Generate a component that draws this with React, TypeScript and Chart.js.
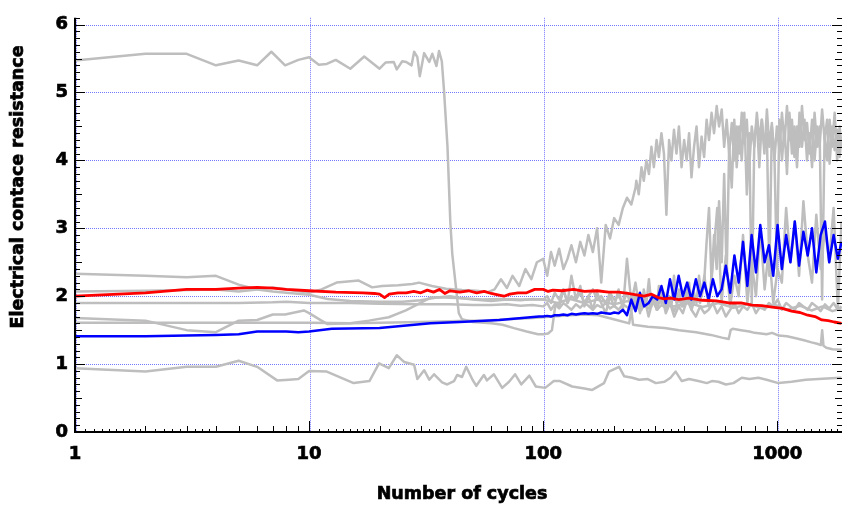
import React, { useEffect, useRef } from "react";
import { Chart, registerables } from "chart.js";

Chart.register(...registerables);

// ---------- axis ticks ----------
const X_TICKS = [1, 10, 100, 1000];
const X_TICK_LABELS = ["1", "10", "100", "1000"];
const Y_TICKS = [0, 1, 2, 3, 4, 5, 6];
const Y_TICK_LABELS = ["0", "1", "2", "3", "4", "5", "6"];
const X_TITLE = "Number of cycles";
const Y_TITLE = "Electrical contace resistance";

// shared cycle grid for the noisy part (cycles >= 100)
const XN = [
  100, 104, 108, 112, 117, 122, 127, 132, 138, 144,
  150, 156, 163, 170, 177, 185, 193, 201, 210, 219,
  228, 238, 248, 259, 270, 282, 294, 307, 320, 334,
  348, 363, 379, 395, 412, 430, 449, 468, 488, 509,
  531, 554, 578, 603, 629, 656, 684, 714, 745, 777,
  811, 846, 883, 921, 961, 1003, 1046, 1091, 1138, 1188,
  1239, 1293, 1349, 1407, 1468, 1532, 1598, 1667, 1740, 1815,
  1880,
];

// finer cycle grid for the top band (cycles >= 250)
const XF = [
  250, 256, 263, 269, 276, 283, 290, 297, 305, 312,
  320, 328, 336, 345, 353, 362, 371, 380, 390, 400,
  410, 420, 430, 441, 452, 463, 475, 487, 499, 511,
  524, 537, 551, 564, 579, 593, 608, 623, 639, 655,
  671, 688, 705, 723, 741, 759, 778, 798, 818, 838,
  859, 881, 903, 925, 948, 972, 996, 1021, 1047, 1073,
  1100, 1127, 1155, 1184, 1214, 1244, 1275, 1307, 1340, 1373,
  1408, 1443, 1479, 1516, 1554, 1593, 1633, 1673, 1715, 1758,
  1802, 1847, 1880,
];

// ---------- red series ----------
const RED: [number, number][] = [
  [1, 2.0], [2, 2.05], [3, 2.1], [4, 2.1], [5, 2.12], [6, 2.13], [7, 2.12], [8, 2.1], [10, 2.08],
  [13, 2.06], [17, 2.05], [19, 2.04], [20, 2.03], [21, 1.98], [22, 2.03], [24, 2.05], [26, 2.05],
  [28, 2.07], [30, 2.05], [32, 2.09], [34, 2.06], [36, 2.1], [38, 2.04], [40, 2.08], [44, 2.06],
  [48, 2.08], [52, 2.05], [56, 2.07], [60, 2.04], [64, 2.02], [68, 2.0], [72, 2.03], [78, 2.05],
  [85, 2.05], [92, 2.1], [100, 2.1], [105, 2.07], [110, 2.09], [120, 2.08], [135, 2.1], [150, 2.07],
  [170, 2.08], [190, 2.06], [210, 2.06], [230, 2.04], [250, 2.02], [270, 2.0], [290, 2.03], [310, 1.98],
  [330, 1.96], [350, 1.97], [380, 1.95], [420, 1.97], [480, 1.94], [550, 1.93], [620, 1.9], [700, 1.9],
  [780, 1.87], [860, 1.86], [950, 1.84], [1050, 1.82], [1150, 1.78], [1250, 1.76], [1350, 1.72],
  [1450, 1.7], [1550, 1.65], [1650, 1.64], [1750, 1.62], [1880, 1.6],
];

// ---------- blue series ----------
const BLUE_HEAD: [number, number][] = [
  [1, 1.41], [2, 1.41], [3, 1.42], [4, 1.43], [5, 1.44], [6, 1.48], [8, 1.48], [9, 1.47], [10, 1.48],
  [12.5, 1.52], [20, 1.53], [33, 1.6], [44, 1.62], [65, 1.65], [96, 1.7],
];
const BLUE_TAIL: (number | null)[] = [
  1.7, 1.71, 1.7, 1.72, 1.72, 1.73, 1.72, 1.74, 1.73, 1.74,
  1.75, 1.74, 1.75, 1.74, 1.76, 1.75, 1.74, 1.76, 1.75, 1.8,
  1.72, 1.95, 1.78, 2.05, 1.85, 1.9, 2.0, 1.95, 2.15, 1.9,
  2.25, 1.95, 2.3, 2.0, 2.2, 1.95, 2.25, 2.0, 2.2, 1.95,
  2.25, 2.0, 2.1, 2.45, 2.05, 2.6, 2.2, 2.8, 2.15, 2.9,
  2.35, 3.05, 2.5, 2.75, 2.3, 3.05, 2.4, 2.9, 2.5, 3.1,
  2.45, 2.95, 2.6, 3.0, 2.35, 2.9, 3.1, 2.5, 2.9, 2.55,
  2.8,
];

// ---------- grey series ----------
// starts at 5.5, collapses near 40 cycles
const GREY_TOP_HEAD: [number, number][] = [
  [1, 5.47], [2, 5.57], [3, 5.57], [4, 5.4], [5, 5.47], [6, 5.4], [6.9, 5.6], [7.9, 5.4], [9, 5.48],
  [10, 5.52], [11, 5.41], [11.9, 5.42], [13, 5.48], [15, 5.35], [17.2, 5.53], [18.4, 5.45], [20, 5.35],
  [21.2, 5.44], [23, 5.45], [23.7, 5.34], [25, 5.46], [26, 5.45], [27.4, 5.4], [28.1, 5.6], [29, 5.52],
  [29.7, 5.24], [31, 5.58], [32.6, 5.45], [33.6, 5.57], [35, 5.39], [35.9, 5.61], [36.9, 5.46],
  [37.7, 5.03], [39, 4.21], [40.1, 3.1], [40.9, 2.62], [43.6, 1.75], [45, 1.66], [50, 1.62], [60, 1.6],
  [67, 1.58], [75, 1.53], [85, 1.48], [95, 1.44], [100, 1.44], [105, 1.45], [109, 1.5], [113, 1.9],
];
const GREY_TOP_TAIL: (number | null)[] = [
  null, null, null, null, 1.85, 2.1, 1.9, 2.3, 1.95, 2.15,
  1.85, 2.0, 1.8, 2.05, 1.9, 1.75, 2.0, 1.85, 2.1, 1.8,
  2.55, 1.9, 2.2, 1.75, 2.0, 1.7, 1.95, 1.8, 2.05, 1.75,
  1.9, 1.7, 1.85, 1.75, 1.95, 1.8, 1.7, 1.85, 1.75, 1.8,
  1.9, 1.75, 1.85, 1.7, 1.8, 1.9, 1.75, 1.85, 1.8, 1.9,
  1.75, 1.85, 1.8, 1.9, 1.85, 1.95, 1.8, 1.9, 1.85, 1.8,
  1.9, 1.85, 1.8, 1.9, 1.85, 1.78, 1.88, 1.82, 1.9, 1.8,
  1.85,
];

// starts near 2.07, climbs to ~4.5
const GREY_RISE_HEAD: [number, number][] = [
  [1, 2.07], [2, 2.08], [4, 2.1], [5, 2.07], [6, 2.1], [7, 2.13], [8, 2.1], [10, 2.05], [11.3, 2.1],
  [13.1, 2.2], [16.3, 2.23], [18.6, 2.13], [20.5, 2.15], [24, 2.16], [27.6, 2.18], [29.5, 2.2],
  [33.5, 2.15], [38.4, 2.11], [45, 2.09], [52, 2.08], [58, 2.06], [62, 2.1], [66, 2.25], [70, 2.12],
  [74, 2.3], [79, 2.15], [84, 2.4], [89, 2.25], [94, 2.5],
];
const GREY_RISE_TAIL: (number | null)[] = [
  2.55, 2.3, 2.65, 2.45, 2.7, 2.4, 2.55, 2.75, 2.5, 2.8,
  2.6, 2.9, 2.65, 3.0, 2.2, 3.05, 2.85, 3.15, 3.05, 3.3,
  3.45, 3.35, 3.6,
];
const GREY_RISE_FINE: (number | null)[] = [
  3.7, 3.5, 3.9, 3.7, 4.0, 3.8, 4.2, 3.9, 4.3, 4.05,
  4.4, 4.1, 3.2, 4.3, 4.0, 4.45, 4.1, 4.5, 3.9, 4.3,
  4.0, 4.4, 3.75, 4.2, 4.5, 3.9, 4.35, 4.05, 4.6, 4.3,
  4.7, 4.4, 4.8, 4.5, 4.75, 4.2, 4.6, 4.1, 4.55, 4.0,
  4.5, 4.1, 4.7, 4.25, 4.6, 3.9, 4.5, 4.2, 4.7, 4.3,
  4.6, 4.1, 4.75, 4.2, 4.55, 4.0, 4.5, 4.15, 4.7, 4.25,
  4.8, 4.3, 4.6, 4.05, 4.5, 4.2, 4.8, 4.3, 4.55, 4.1,
  4.6, 4.0, 4.5, 4.2, 4.75, 4.3, 4.6, 3.95, 4.5, 4.15,
  4.45, 4.05, 4.35,
];

// starts at 2.33, late jump to the top band
const GREY_LATE_HEAD: [number, number][] = [
  [1, 2.33], [2, 2.3], [3, 2.28], [4, 2.3], [5, 2.17], [6, 2.1], [7, 2.07], [8, 2.05], [10, 2.02],
  [12, 1.96], [15, 1.93], [20, 1.92], [25, 1.92], [30, 1.94], [35, 1.98], [40, 2.0], [45, 1.97],
  [50, 1.95], [60, 1.93], [70, 1.95], [80, 1.94], [90, 1.96],
];
const GREY_LATE_TAIL: (number | null)[] = [
  1.95, 2.0, 1.9, 2.05, 1.95, 2.1, 1.9, 2.0, 1.95, 2.05,
  1.9, 2.0, 2.1, 1.95, 2.0, 1.9, 2.05, 1.95, 2.0, 1.9,
  2.05, 1.85, 2.0,
];
const GREY_LATE_FINE: (number | null)[] = [
  1.85, 2.0, 1.8, 2.1, 1.9, 2.25, 1.85, 2.0, 1.8, 2.15,
  1.9, 2.05, 1.8, 2.0, 1.85, 2.3, 1.9, 2.1, 1.85, 2.0,
  1.9, 2.2, 1.85, 2.05, 1.9, 2.3, 2.0, 2.2, 2.8, 3.3,
  2.2, 2.9, 2.4, 3.4, 2.5, 3.8, 2.3, 4.2, 3.6, 4.6,
  3.9, 4.5, 4.0, 4.7, 3.5, 4.4, 1.9, 4.3, 4.6, 3.9,
  4.6, 4.2, 4.4, 2.3, 4.5, 4.1, 2.4, 4.6, 4.0, 4.5,
  3.8, 4.7, 4.1, 4.5, 3.9, 4.7, 4.2, 4.6, 4.0, 4.4,
  3.9, 4.7, 4.2, 4.5, 1.95, 4.4, 4.0, 4.6, 4.2, 4.7,
  4.0, 4.5, 4.2,
];

// starts at 1.9, noisy 2-3.4 at the end
const GREY_MID_HEAD: [number, number][] = [
  [1, 1.9], [3, 1.9], [5, 1.9], [7, 1.91], [8, 1.92], [10, 1.9], [15, 1.9], [20, 1.89], [30, 1.88],
  [40, 1.88], [50, 1.87], [60, 1.87], [70, 1.88], [80, 1.86], [90, 1.87],
];
const GREY_MID_TAIL: (number | null)[] = [
  1.85, 1.9, 1.8, 1.88, 1.82, 1.9, 1.85, 1.8, 1.88, 1.83,
  1.9, 1.86, 1.8, 1.87, 1.84, 1.9, 1.82, 1.86, 1.8, 1.88,
  1.84, 1.8, 1.9, 1.78, 1.86, 1.82, 1.92, 1.8, 1.87, 1.83,
  1.9, 1.78, 1.95, 1.85, 2.1, 1.8, 2.0, 1.9, 2.3, 1.85,
  2.5, 3.3, 1.9, 2.6, 1.85, 2.3, 2.0, 2.9, 1.9, 2.5,
  2.0, 3.0, 2.1, 2.7, 1.9, 2.4, 2.2, 3.3, 2.5, 3.1,
  2.3, 3.4, 2.6, 2.2, 3.2, 2.4, 3.0, 2.5, 3.3, 1.8,
  3.1,
];

// starts at 1.68, settles near 1.9
const GREY_WAVE: [number, number][] = [
  [1, 1.68], [2, 1.64], [3, 1.5], [4, 1.47], [5, 1.64], [6, 1.65], [7, 1.73], [7.9, 1.73], [9.5, 1.79],
  [10, 1.75], [11.3, 1.64], [12, 1.59], [15, 1.6], [18, 1.64], [21.9, 1.69], [25.9, 1.79], [29.5, 1.89],
  [33, 1.98], [38, 1.98], [45, 1.97], [55, 1.95], [65, 1.96], [80, 1.95], [100, 1.95], [115, 1.9],
  [130, 1.96], [150, 1.9], [170, 1.95], [200, 1.88], [230, 1.93], [270, 1.86], [310, 1.92], [360, 1.85],
  [420, 1.9], [480, 1.84], [560, 1.9], [650, 1.83], [750, 1.88], [860, 1.82], [980, 1.87], [1100, 1.8],
  [1250, 1.86], [1400, 1.79], [1560, 1.85], [1720, 1.78], [1880, 1.82],
];

// starts at 1.61, falls to 1.2 at the end
const GREY_FALL: [number, number][] = [
  [1, 1.61], [2, 1.61], [4, 1.61], [6, 1.61], [8, 1.61], [10, 1.61], [15, 1.6], [20, 1.61], [30, 1.62],
  [40, 1.63], [47, 1.64], [55, 1.64], [70, 1.66], [90, 1.68], [110, 1.7], [130, 1.72], [150, 1.73],
  [172, 1.72], [200, 1.66], [233, 1.6], [238, 1.8], [242, 1.58], [280, 1.55], [330, 1.53], [380, 1.5],
  [450, 1.47], [520, 1.43], [580, 1.39], [620, 1.37], [632, 1.5], [645, 1.52], [700, 1.5], [760, 1.48],
  [800, 1.46], [850, 1.45], [900, 1.44], [950, 1.46], [1015, 1.42], [1100, 1.41], [1200, 1.38],
  [1300, 1.35], [1400, 1.32], [1480, 1.3], [1535, 1.28], [1555, 1.5], [1575, 1.27], [1620, 1.24],
  [1720, 1.22], [1880, 1.21],
];

// lowest series, around 0.7-1.1
const GREY_LOW: [number, number][] = [
  [1, 0.94], [2, 0.89], [3, 0.96], [4, 0.96], [5, 1.05], [6, 0.96], [7.3, 0.76], [8.2, 0.77], [9, 0.78],
  [10, 0.9], [11.9, 0.89], [15.5, 0.72], [18.1, 0.75], [19.9, 1.01], [21.9, 0.94], [23.7, 1.13],
  [25.5, 1.03], [28.1, 0.99], [29, 0.78], [31, 0.91], [32.6, 0.77], [34.2, 0.85], [37, 0.73], [38.9, 0.7],
  [41.6, 0.75], [42.9, 0.84], [45, 0.81], [46.9, 0.96], [49.9, 0.77], [51.8, 0.68], [55.8, 0.84],
  [57.5, 0.76], [61.6, 0.85], [66.8, 0.65], [71.5, 0.74], [75.9, 0.85], [80.6, 0.7], [87.3, 0.83],
  [93, 0.67], [102, 0.65], [111, 0.75], [118, 0.75], [133, 0.67], [150, 0.64], [162, 0.62], [182, 0.72],
  [191, 0.89], [211, 0.96], [222, 0.82], [240, 0.8], [257, 0.77], [280, 0.78], [303, 0.72], [330, 0.74],
  [350, 0.8], [368, 0.89], [391, 0.75], [420, 0.78], [460, 0.75], [500, 0.72], [526, 0.75], [560, 0.74],
  [603, 0.7], [650, 0.72], [705, 0.8], [760, 0.78], [831, 0.8], [900, 0.77], [1011, 0.72], [1150, 0.74],
  [1323, 0.77], [1500, 0.78], [1700, 0.79], [1880, 0.8],
];

// ---------- helpers ----------
function build(head: [number, number][], tail?: (number | null)[], fine?: (number | null)[]) {
  const pts = head.map(([x, y]) => ({ x, y }));
  if (tail) {
    tail.forEach((y, i) => {
      if (y !== null && y !== undefined) pts.push({ x: XN[i], y });
    });
  }
  if (fine) {
    fine.forEach((y, i) => {
      if (y !== null && y !== undefined) pts.push({ x: XF[i], y });
    });
  }
  return pts;
}

const GREY = "#bebebe";
const GRID = "rgb(120,120,255)";
const FONT = '"DejaVu Sans", "Liberation Sans", Arial, sans-serif';

const gridPlugin = {
  id: "dottedGrid",
  beforeDatasetsDraw(chart: any) {
    const { ctx, chartArea } = chart;
    const { left, right, top, bottom } = chartArea;
    const xs = chart.scales.x;
    const ys = chart.scales.y;
    ctx.save();
    ctx.strokeStyle = GRID;
    ctx.lineWidth = 1;
    ctx.setLineDash([1, 1]);
    for (const v of Y_TICKS) {
      const py = Math.round(ys.getPixelForValue(v)) + 0.5;
      ctx.beginPath();
      ctx.moveTo(left + 1, py);
      ctx.lineTo(right, py);
      ctx.stroke();
    }
    for (const v of X_TICKS) {
      const px = Math.round(xs.getPixelForValue(v)) + 1.5;
      ctx.beginPath();
      ctx.moveTo(px, top);
      ctx.lineTo(px, bottom);
      ctx.stroke();
    }
    ctx.restore();
  },
};

const axesPlugin = {
  id: "customAxes",
  afterDraw(chart: any) {
    const { ctx, chartArea } = chart;
    const { left, right, top, bottom } = chartArea;
    const xs = chart.scales.x;
    const ys = chart.scales.y;
    ctx.save();
    ctx.setLineDash([]);
    ctx.strokeStyle = "#000";
    ctx.lineWidth = 1;
    const seg = (x1: number, y1: number, x2: number, y2: number) => {
      ctx.beginPath();
      ctx.moveTo(x1, y1);
      ctx.lineTo(x2, y2);
      ctx.stroke();
    };
    // y ticks (inside, both sides)
    for (let i = 0; i <= 61; i++) {
      const py = Math.round(ys.getPixelForValue(i / 10)) + 0.5;
      const len = i % 10 === 0 ? 10 : i % 5 === 0 ? 7 : 5;
      seg(left, py, left + len, py);
      seg(right, py, right - len, py);
    }
    // x ticks (inside)
    const subdiv: Record<number, number> = { 1: 10, 2: 5, 3: 4 };
    for (const d of X_TICKS) {
      for (let k = 1; k <= 9; k++) {
        const v = k * d;
        if (v > xs.max) break;
        const px = Math.round(xs.getPixelForValue(v)) + 0.5;
        seg(px, bottom, px, bottom - (k === 1 ? 11 : 6));
        const n = subdiv[k];
        if (n) {
          for (let j = 1; j < n; j++) {
            const vv = (k + j / n) * d;
            if (vv > xs.max) break;
            const p2 = Math.round(xs.getPixelForValue(vv)) + 0.5;
            seg(p2, bottom, p2, bottom - 3);
          }
        }
      }
    }
    // axis lines
    ctx.lineWidth = 2;
    seg(left, top, left, bottom + 1);
    seg(left - 1, bottom, right, bottom);
    // titles
    ctx.fillStyle = "#000";
    ctx.strokeStyle = "#000";
    ctx.lineWidth = 0.7;
    ctx.font = `bold 17.5px ${FONT}`;
    ctx.textAlign = "center";
    ctx.textBaseline = "middle";
    ctx.fillText(X_TITLE, 462, 494);
    ctx.strokeText(X_TITLE, 462, 494);
    ctx.translate(18.5, 187);
    ctx.rotate(-Math.PI / 2);
    ctx.fillText(Y_TITLE, 0, 0);
    ctx.strokeText(Y_TITLE, 0, 0);
    ctx.restore();
  },
};

export default function App() {
  const ref = useRef<HTMLCanvasElement>(null);
  useEffect(() => {
    document.body.style.margin = "0";
    const canvas = ref.current!;
    const greyStyle = { borderColor: GREY, borderWidth: 2.5, pointRadius: 0, fill: false };
    const tickFont = { family: FONT, weight: "bold", size: 18 };
    const chart = new Chart(canvas, {
      type: "line",
      data: {
        datasets: [
          { data: build(RED), borderColor: "#ff0000", borderWidth: 2.8, pointRadius: 0, fill: false },
          { data: build(BLUE_HEAD, BLUE_TAIL), borderColor: "#0000ff", borderWidth: 2.5, pointRadius: 0, fill: false },
          { data: build(GREY_TOP_HEAD, GREY_TOP_TAIL), ...greyStyle },
          { data: build(GREY_RISE_HEAD, GREY_RISE_TAIL, GREY_RISE_FINE), ...greyStyle },
          { data: build(GREY_LATE_HEAD, GREY_LATE_TAIL, GREY_LATE_FINE), ...greyStyle },
          { data: build(GREY_MID_HEAD, GREY_MID_TAIL), ...greyStyle },
          { data: build(GREY_WAVE), ...greyStyle },
          { data: build(GREY_FALL), ...greyStyle },
          { data: build(GREY_LOW), ...greyStyle },
        ] as any,
      },
      options: {
        responsive: false,
        animation: false,
        devicePixelRatio: 1,
        layout: { padding: { top: 8, right: 0, bottom: 0, left: 0 } },
        plugins: { legend: { display: false }, tooltip: { enabled: false } },
        elements: { line: { tension: 0, borderJoinStyle: "round" } as any, point: { radius: 0 } },
        scales: {
          x: {
            type: "logarithmic",
            min: 1,
            max: 1890,
            afterBuildTicks: (s: any) => {
              s.ticks = X_TICKS.map((v) => ({ value: v }));
            },
            afterFit: (s: any) => {
              s.height = 73;
            },
            ticks: {
              autoSkip: false,
              maxRotation: 0,
              padding: 12,
              color: "#000",
              textStrokeColor: "#000",
              textStrokeWidth: 0.7,
              font: tickFont,
              callback: (_v: any, i: number) => X_TICK_LABELS[i],
            },
            grid: { display: false, drawTicks: false },
            border: { display: false },
          } as any,
          y: {
            type: "linear",
            min: 0,
            max: 6.1,
            afterBuildTicks: (s: any) => {
              s.ticks = Y_TICKS.map((v) => ({ value: v }));
            },
            afterFit: (s: any) => {
              s.width = 75;
            },
            ticks: {
              padding: 7,
              color: "#000",
              textStrokeColor: "#000",
              textStrokeWidth: 0.7,
              font: tickFont,
              callback: (_v: any, i: number) => Y_TICK_LABELS[i],
            },
            grid: { display: false, drawTicks: false },
            border: { display: false },
          } as any,
        },
      },
      plugins: [gridPlugin, axesPlugin],
    });
    return () => chart.destroy();
  }, []);
  return (
    <div style={{ width: 842, height: 505 }}>
      <canvas ref={ref} width={842} height={505} style={{ width: 842, height: 505, display: "block" }} />
    </div>
  );
}
